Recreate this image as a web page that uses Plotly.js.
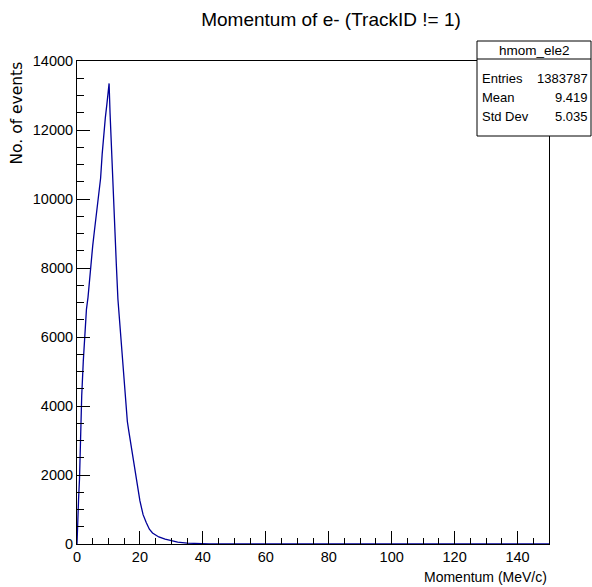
<!DOCTYPE html>
<html>
<head>
<meta charset="utf-8">
<script src="https://cdn.plot.ly/plotly-3.0.1.min.js"></script>
<style>
  html, body { margin: 0; padding: 0; background: #fff; }
  #chart { width: 592px; height: 587px; }
</style>
</head>
<body>
<div id="chart"></div>
<script>
// Momentum (MeV/c) sample positions
const momentum = [0, 0.2, 0.5, 0.8, 1.1, 1.3, 1.5, 2, 2.5, 3, 3.5, 4, 4.5, 5, 5.5, 6, 6.5, 7, 7.5, 8, 8.5, 9, 9.5, 10, 10.2,
                  10.5, 11, 11.5, 12, 12.5, 13, 13.5, 14, 14.5, 15, 15.5, 16, 16.5, 17, 17.5, 18, 18.5, 19, 19.5, 20,
                  21, 22, 23, 24, 25, 26, 28, 30, 32, 35, 38, 42, 50, 60, 150];
// Number of events at each position
const events = [0, 700, 1300, 1900, 3300, 3900, 4300, 5300, 6100, 6800, 7150, 7700, 8200, 8650, 9050, 9400, 9750, 10100, 10600, 11300, 11950, 12350, 12750, 13100, 13350,
                12500, 11300, 10100, 9100, 8100, 7100, 6500, 5800, 5100, 4500, 3900, 3550, 3250, 2950, 2600, 2350, 2050, 1800, 1530, 1250,
                850, 620, 430, 320, 250, 205, 140, 90, 55, 25, 12, 5, 1, 0, 0];

const xTicks = [0, 20, 40, 60, 80, 100, 120, 140];
const yTicks = [0, 2000, 4000, 6000, 8000, 10000, 12000, 14000];

const statsName = "hmom_ele2";
const statsLabels = ["Entries", "Mean", "Std Dev"];
const statsValues = ["1383787", "9.419", "5.035"];

const titleText = "Momentum of e- (TrackID != 1)";
const xTitle = "Momentum (MeV/c)";
const yTitle = "No. of events";

const W = 592, H = 587;
const L = 77, R = 549, T = 61, B = 544;
const px = x => (x - L) / (R - L);
const py = y => (B - y) / (B - T);

const sans = "Liberation Sans, Arial, sans-serif";

const trace = {
  type: 'scatter',
  mode: 'lines',
  x: momentum,
  y: events,
  line: { color: '#000099', width: 1.3 },
  hoverinfo: 'skip',
  showlegend: false
};

const annotations = [
  { text: statsName, xref: 'paper', yref: 'paper', x: px(534), y: py(50), xanchor: 'center', yanchor: 'middle',
    showarrow: false, font: { family: sans, size: 13.5, color: '#000' } }
];
const rowsY = [78, 97, 116];
statsLabels.forEach((lab, i) => {
  annotations.push({ text: lab, xref: 'paper', yref: 'paper', x: px(480), y: py(rowsY[i]), xanchor: 'left', yanchor: 'middle',
    showarrow: false, font: { family: sans, size: 13, color: '#000' } });
  annotations.push({ text: statsValues[i], xref: 'paper', yref: 'paper', x: px(590), y: py(rowsY[i]), xanchor: 'right', yanchor: 'middle',
    showarrow: false, font: { family: sans, size: 13, color: '#000' } });
});
annotations.push({ text: xTitle, xref: 'paper', yref: 'paper', x: 1, y: py(577), xanchor: 'right', yanchor: 'middle',
  showarrow: false, font: { family: sans, size: 14, color: '#000' } });
annotations.push({ text: yTitle, xref: 'paper', yref: 'paper', x: px(17), y: py(60), xanchor: 'center', yanchor: 'top',
  textangle: -90, showarrow: false, font: { family: 'DejaVu Sans, Arial, sans-serif', size: 15.5, color: '#000' } });

const shapes = [
  { type: 'rect', xref: 'paper', yref: 'paper', x0: px(477), x1: px(591), y0: py(136), y1: py(41),
    line: { color: '#000', width: 1 }, fillcolor: '#fff', layer: 'above' },
  { type: 'line', xref: 'paper', yref: 'paper', x0: px(477), x1: px(591), y0: py(59), y1: py(59),
    line: { color: '#000', width: 1 }, layer: 'above' }
];

const layout = {
  width: W, height: H,
  margin: { l: L, r: W - R, t: T, b: H - B, pad: 0 },
  paper_bgcolor: '#fff', plot_bgcolor: '#fff',
  title: { text: titleText, x: px(331), xref: 'paper', xanchor: 'center', y: 1 - 19 / H, yanchor: 'middle',
           font: { family: sans, size: 19, color: '#000' } },
  xaxis: {
    range: [0, 150], tickvals: xTicks, ticktext: xTicks.map(String),
    ticks: 'inside', ticklen: 13, tickwidth: 1, tickcolor: '#000',
    minor: { dtick: 5, tick0: 0, ticks: 'inside', ticklen: 6, tickcolor: '#000', showgrid: false },
    showgrid: false, zeroline: false, showline: true, linecolor: '#000', linewidth: 1, mirror: true,
    tickfont: { family: sans, size: 14.5, color: '#000' }, fixedrange: true
  },
  yaxis: {
    range: [0, 14000], tickvals: yTicks, ticktext: yTicks.map(String),
    ticks: 'inside', ticklen: 13, tickwidth: 1, tickcolor: '#000',
    minor: { dtick: 500, tick0: 0, ticks: 'inside', ticklen: 7, tickcolor: '#000', showgrid: false },
    showgrid: false, zeroline: false, showline: true, linecolor: '#000', linewidth: 1, mirror: true,
    tickfont: { family: sans, size: 14.5, color: '#000' }, fixedrange: true
  },
  annotations: annotations,
  shapes: shapes,
  showlegend: false
};

Plotly.newPlot('chart', [trace], layout, { staticPlot: true, displayModeBar: false });
</script>
</body>
</html>
